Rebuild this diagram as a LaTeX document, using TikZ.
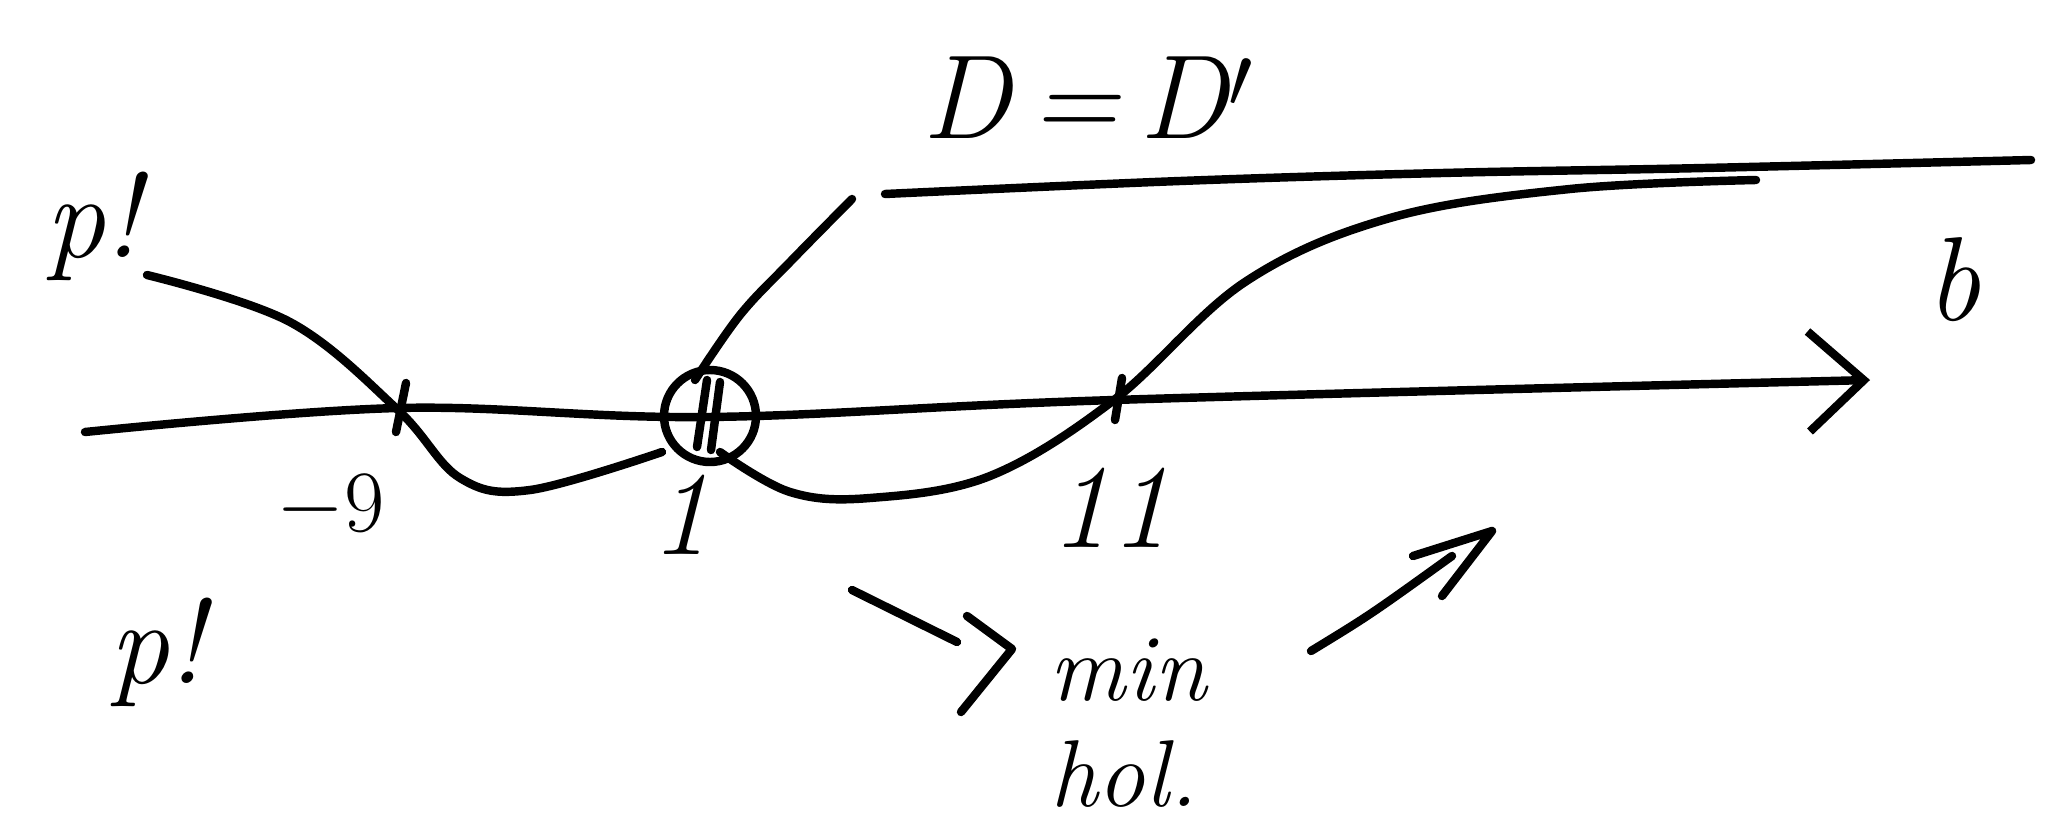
\documentclass[tikz,border=0pt]{standalone}
\usetikzlibrary{arrows.meta}
\tikzset{
  pen/.style={line width=2.4pt, line cap=round, line join=round},
  hand/.style={font=\fontsize{34}{36}\selectfont\itshape, inner sep=0pt},
  handsmall/.style={hand, font=\fontsize{27}{29}\selectfont\itshape},
}
\begin{document}
\begin{tikzpicture}[x=0.01cm, y=-0.01cm, pen]
  \useasboundingbox (0,0) rectangle (2055,821);
  % axis with open arrow head
  \draw[-{Straight Barb[length=0.55cm, width=1.0cm]}] plot[smooth, tension=0.6] coordinates
    {(85,432) (398,408) (708,417) (1114,400) (1870,380)};
  \node[hand] (b) at (1953,280) {b};
  % the curve, left part: p! down to the double point
  \draw plot[smooth, tension=0.6] coordinates
    {(147,275) (290,322) (398,410) (460,478) (530,490) (662,452)};
  % right part: from the double point up to the top line
  \draw plot[smooth, tension=0.6] coordinates
    {(720,452) (790,492) (870,498) (990,476) (1114,400) (1245,282)
     (1390,218) (1570,189) (1756,180)};
  % D line: rises from 1, then runs flat
  \draw plot[smooth, tension=0.6] coordinates {(695,380) (740,315) (790,262) (852,199)};
  \draw plot[smooth, tension=0.6] coordinates {(885,194) (1180,181) (1442,173) (1704,168) (2031,160)};
  % ticks and the circled double point
  \draw (406,383) -- (396,432);
  \draw (1122,378) -- (1115,420);
  \draw (710,416) circle[radius=46];
  \draw (707,380) -- (697,447);
  \draw (720,382) -- (711,450);
  % labels
  \node[hand] (pt) at (93,226) {p!};
  \node[hand] (pb) at (157,652) {p!};
  \node[hand] (dd) at (1088,98) {D\,=\,D$'$};
  \node[hand] (m9) at (331,507) {$-9$};
  \node[hand] (one) at (680,515) {1};
  \node[hand] (el) at (1110,508) {11};
  \node[handsmall] (min) at (1128,670) {min};
  \node[handsmall] (hol) at (1124,774) {hol.};
  % arrows round "min"
  \coordinate (a1) at (852,590);
  \coordinate (a2) at (957,642);
  \draw (a1) -- (a2);
  \draw (967,616) -- (1012,649) -- (961,712);
  \coordinate (c1) at (1311,651);
  \coordinate (c2) at (1452,556);
  \draw (c1) .. controls (1370,615) .. (c2);
  \draw (1413,556) -- (1492,531) -- (1442,596);
\end{tikzpicture}
\end{document}
